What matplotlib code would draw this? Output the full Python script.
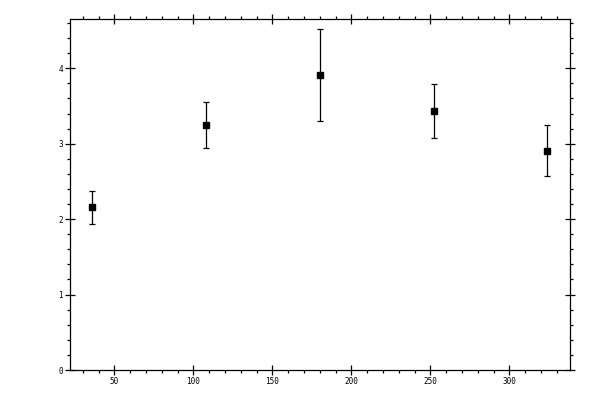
import matplotlib
matplotlib.use("Agg")
import matplotlib.pyplot as plt
from matplotlib.ticker import MultipleLocator

x = [36, 108, 180, 252, 324]
y = [2.16, 3.25, 3.91, 3.43, 2.91]
err = [0.22, 0.30, 0.61, 0.36, 0.34]
xticks = [50, 100, 150, 200, 250, 300]
yticks = [0, 1, 2, 3, 4]

fig = plt.figure(figsize=(6, 4), dpi=100)
ax = fig.add_axes([69.5 / 600, 1 - 370 / 400, (570 - 69.5) / 600, (370 - 19.3) / 400])

ax.errorbar(x, y, yerr=err, fmt='s', color='black', ms=5, capsize=2.5,
            elinewidth=0.9, capthick=0.9)

ax.set_xlim(21.6, 338.4)
ax.set_ylim(0, 4.65)
ax.set_xticks(xticks)
ax.set_yticks(yticks)
ax.xaxis.set_minor_locator(MultipleLocator(10))
ax.yaxis.set_minor_locator(MultipleLocator(0.2))

for s in ax.spines.values():
    s.set_linewidth(0.9)

ax.tick_params(which='major', direction='inout', length=6.5, width=0.9,
               top=True, right=True, labelsize=5.5, pad=1.5)
ax.tick_params(which='minor', direction='out', length=2.3, width=0.9,
               top=True, right=True)
for lab in ax.get_xticklabels() + ax.get_yticklabels():
    lab.set_family('DejaVu Sans Mono')

fig.savefig('out.png', dpi=100)
